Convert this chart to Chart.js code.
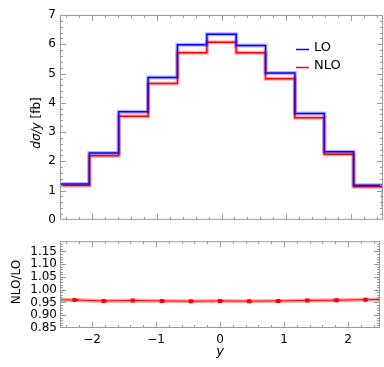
<!DOCTYPE html>
<html lang="en">
<head>
    <meta charset="UTF-8">
    <title>dσ/y LO vs NLO</title>
    <style>
        body { margin: 0; background: #fff; }
        #box { position: relative; width: 384px; height: 367px; }
        canvas { position: absolute; left: 0; }
        #top { top: 0; }
        #bottom { top: 231px; }
    </style>
    <script src="https://cdn.jsdelivr.net/npm/chart.js"></script>
</head>
<body>
    <div id="box">
        <canvas id="top" width="384" height="231"></canvas>
        <canvas id="bottom" width="384" height="136"></canvas>
    </div>

    <script>
        // bin edges and centres in y
        const binEdges = [-2.5, -2.045, -1.591, -1.136, -0.682, -0.227, 0.227, 0.682, 1.136, 1.591, 2.045, 2.5];
        const binCenters = [-2.273, -1.818, -1.364, -0.909, -0.455, 0, 0.455, 0.909, 1.364, 1.818, 2.273];

        // dσ/y [fb]
        const lo  = [1.22, 2.28, 3.69, 4.86, 5.98, 6.34, 5.96, 5.02, 3.63, 2.33, 1.18];
        const nlo = [1.17, 2.19, 3.54, 4.66, 5.71, 6.07, 5.71, 4.82, 3.49, 2.24, 1.13];
        const nloTail = 0.45;

        // NLO/LO
        const ratio    = [0.960, 0.956, 0.958, 0.956, 0.955, 0.956, 0.955, 0.956, 0.958, 0.959, 0.961];
        const ratioErr = [0.0015, 0.001, 0.0012, 0.001, 0.0012, 0.0012, 0.001, 0.0012, 0.0015, 0.0025, 0.0015];
        const ratioEdges = [0.960, 0.962];

        const xTicksMajor = [-2, -1, 0, 1, 2];
        const xTickVals = [];
        for (let k = -12; k <= 12; k++) xTickVals.push(k / 5);

        const FONT = "'DejaVu Sans', sans-serif";
        const tickFont = { family: FONT, size: 12 };

        function isInt(v) { return Math.abs(v - Math.round(v)) < 1e-6; }
        function multiple(v, s) { return Math.abs(v / s - Math.round(v / s)) < 1e-6; }

        function gradini(valori) {
            const pts = valori.map((v, i) => ({ x: binEdges[i], y: v }));
            pts.push({ x: binEdges[binEdges.length - 1], y: valori[valori.length - 1] });
            return pts;
        }

        const nloPts = gradini(nlo);
        nloPts.push({ x: binEdges[binEdges.length - 1], y: nloTail });

        const ratioLine = [{ x: binEdges[0], y: ratioEdges[0] }]
            .concat(binCenters.map((c, i) => ({ x: c, y: ratio[i] })))
            .concat([{ x: binEdges[binEdges.length - 1], y: ratioEdges[1] }]);

        // frame with inward ticks, like the original
        function disegnaCornice(chart, yMajor) {
            const { ctx, chartArea: a, scales } = chart;
            ctx.save();
            ctx.strokeStyle = '#9a9a9a';
            ctx.lineWidth = 1;
            ctx.strokeRect(a.left + 0.5, a.top + 0.5, a.right - a.left - 1, a.bottom - a.top - 1);
            ctx.beginPath();
            scales.x.ticks.forEach(t => {
                if (Math.abs(t.value) > 2.49) return;
                const px = Math.round(scales.x.getPixelForValue(t.value)) + 0.5;
                const len = isInt(t.value) ? 6 : 3;
                ctx.moveTo(px, a.bottom); ctx.lineTo(px, a.bottom - len);
                ctx.moveTo(px, a.top); ctx.lineTo(px, a.top + len);
            });
            scales.y.ticks.forEach(t => {
                const py = Math.round(scales.y.getPixelForValue(t.value)) + 0.5;
                if (py <= a.top + 1 || py >= a.bottom - 1) return;
                const len = yMajor(t.value) ? 6 : 3;
                ctx.moveTo(a.left, py); ctx.lineTo(a.left + len, py);
                ctx.moveTo(a.right, py); ctx.lineTo(a.right - len, py);
            });
            ctx.stroke();
            ctx.restore();
        }

        function testoVerticale(ctx, x, y, pezzi) {
            ctx.save();
            ctx.translate(x, y);
            ctx.rotate(-Math.PI / 2);
            ctx.fillStyle = '#000';
            ctx.textBaseline = 'middle';
            let tot = 0;
            pezzi.forEach(p => { ctx.font = p.font; tot += ctx.measureText(p.text).width; });
            let cx = -tot / 2;
            pezzi.forEach(p => {
                ctx.font = p.font;
                ctx.textAlign = 'left';
                ctx.fillText(p.text, cx, 0);
                cx += ctx.measureText(p.text).width;
            });
            ctx.restore();
        }

        const extraTop = {
            id: 'extraTop',
            afterDraw(chart) {
                const ctx = chart.ctx;
                disegnaCornice(chart, v => isInt(v));
                testoVerticale(ctx, 37, 123, [
                    { text: 'dσ/y', font: 'italic 12px ' + FONT },
                    { text: ' [fb]', font: '12px ' + FONT }
                ]);
                // legend
                ctx.save();
                ctx.lineWidth = 1.5;
                ctx.strokeStyle = '#0000ff';
                ctx.beginPath(); ctx.moveTo(296, 49.5); ctx.lineTo(309, 49.5); ctx.stroke();
                ctx.strokeStyle = '#ff0000';
                ctx.beginPath(); ctx.moveTo(296, 67.5); ctx.lineTo(309, 67.5); ctx.stroke();
                ctx.fillStyle = '#000';
                ctx.font = '13px ' + FONT;
                ctx.textBaseline = 'middle';
                ctx.fillText('LO', 314, 48);
                ctx.fillText('NLO', 314, 66);
                ctx.restore();
            }
        };

        const extraBottom = {
            id: 'extraBottom',
            afterDatasetsDraw(chart) {
                const { ctx, scales } = chart;
                ctx.save();
                ctx.strokeStyle = '#ff0000';
                ctx.lineWidth = 1;
                ctx.beginPath();
                binCenters.forEach((c, i) => {
                    const px = Math.round(scales.x.getPixelForValue(c)) + 0.5;
                    const y1 = scales.y.getPixelForValue(ratio[i] - ratioErr[i]);
                    const y2 = scales.y.getPixelForValue(ratio[i] + ratioErr[i]);
                    ctx.moveTo(px, y1); ctx.lineTo(px, y2);
                    ctx.moveTo(px - 3, y1); ctx.lineTo(px + 3, y1);
                    ctx.moveTo(px - 3, y2); ctx.lineTo(px + 3, y2);
                });
                ctx.stroke();
                ctx.restore();
            },
            afterDraw(chart) {
                const ctx = chart.ctx;
                disegnaCornice(chart, v => multiple(v, 0.05));
                testoVerticale(ctx, 17, 51, [{ text: 'NLO/LO', font: '12px ' + FONT }]);
                ctx.save();
                ctx.fillStyle = '#000';
                ctx.font = 'italic 13px ' + FONT;
                ctx.textAlign = 'center';
                ctx.textBaseline = 'middle';
                ctx.fillText('y', chart.scales.x.getPixelForValue(0), 121);
                ctx.restore();
            }
        };

        const xBase = {
            type: 'linear',
            min: -2.5,
            max: 2.5,
            grid: { display: false, drawTicks: false },
            border: { display: false },
            afterBuildTicks: s => { s.ticks = xTickVals.map(v => ({ value: v })); }
        };

        new Chart(document.getElementById('top').getContext('2d'), {
            type: 'line',
            data: {
                datasets: [
                    { data: gradini(lo), borderColor: 'rgba(0,0,255,0.3)', borderWidth: 4 },
                    { data: nloPts, borderColor: 'rgba(255,0,0,0.3)', borderWidth: 4 },
                    { data: gradini(lo), borderColor: '#0000ff', borderWidth: 1.5 },
                    { data: nloPts, borderColor: '#ff0000', borderWidth: 1.5 }
                ]
            },
            options: {
                responsive: false,
                animation: false,
                layout: { padding: { top: 15, right: 1, bottom: 3, left: 0 } },
                elements: { line: { stepped: true, tension: 0 }, point: { radius: 0 } },
                plugins: { legend: { display: false }, tooltip: { enabled: false } },
                scales: {
                    x: Object.assign({}, xBase, {
                        ticks: { display: false },
                        afterFit: s => { s.height = 0; }
                    }),
                    y: {
                        min: 0,
                        max: 7,
                        grid: { display: false, drawTicks: false },
                        border: { display: false },
                        ticks: {
                            stepSize: 0.2,
                            autoSkip: false,
                            padding: 4,
                            color: '#000',
                            font: tickFont,
                            callback: v => isInt(v) ? String(Math.round(v)) : ''
                        },
                        afterFit: s => { s.width = 60; }
                    }
                }
            },
            plugins: [extraTop]
        });

        new Chart(document.getElementById('bottom').getContext('2d'), {
            type: 'line',
            data: {
                datasets: [
                    { data: binCenters.map((c, i) => ({ x: c, y: ratio[i] })), showLine: false,
                      pointStyle: 'rect', pointRadius: 2.8, backgroundColor: '#ff0000', borderColor: '#ff0000', borderWidth: 0 },
                    { data: ratioLine, borderColor: '#ff0000', borderWidth: 1, pointRadius: 0 },
                    { data: ratioLine, borderColor: 'rgba(255,0,0,0.35)', borderWidth: 4, pointRadius: 0 }
                ]
            },
            options: {
                responsive: false,
                animation: false,
                layout: { padding: { top: 2, right: 1, bottom: 0, left: 0 } },
                plugins: { legend: { display: false }, tooltip: { enabled: false } },
                scales: {
                    x: Object.assign({}, xBase, {
                        ticks: {
                            autoSkip: false,
                            maxRotation: 0,
                            padding: 5,
                            color: '#000',
                            font: tickFont,
                            callback: v => isInt(v)
                                ? (v < 0 ? '\u2212' + Math.abs(Math.round(v)) : String(Math.round(v))) : ''
                        },
                        afterFit: s => { s.height = 39; }
                    }),
                    y: {
                        min: 0.85,
                        max: 1.19,
                        grid: { display: false, drawTicks: false },
                        border: { display: false },
                        ticks: {
                            stepSize: 0.01,
                            autoSkip: false,
                            padding: 3,
                            color: '#000',
                            font: tickFont,
                            callback: v => multiple(v, 0.05) ? v.toFixed(2) : ''
                        },
                        afterFit: s => { s.width = 60; }
                    }
                }
            },
            plugins: [extraBottom]
        });
    </script>
</body>
</html>
